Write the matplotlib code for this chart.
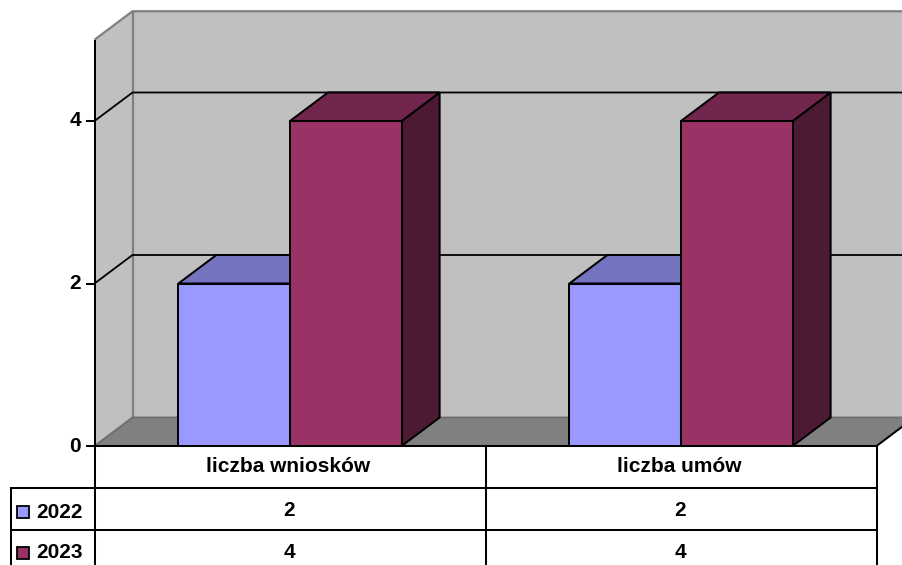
import matplotlib
matplotlib.use("Agg")
import matplotlib.pyplot as plt
from matplotlib.patches import Polygon, Rectangle

categories = ["liczba wniosków", "liczba umów"]
series_names = ["2022", "2023"]
values_2022 = [2, 2]
values_2023 = [4, 4]
y_ticks = [0, 2, 4]
y_max = 5

series_values = [values_2022, values_2023]
front = ["#9999FF", "#993366"]
top = ["#7373BF", "#73264D"]
side = ["#4D4D80", "#4D1A33"]
WALL, FLOOR, EDGE = "#C0C0C0", "#808080", "#808080"
FONT = dict(family="Liberation Sans", fontweight="bold", fontsize=15, color="black")
W, H = 902, 565
LW = 1.45

fig = plt.figure(figsize=(W / 100, H / 100), dpi=100, facecolor="white")

# Overlay in pixel coordinates for the data table frame
tb = fig.add_axes([0, 0, 1, 1])
tb.set_xlim(0, W)
tb.set_ylim(H, 0)
tb.axis("off")

# Main axes: front plane of the 3D box
x0, x1, y0, y5 = 94.5, 876.5, 446.0, 39.75
ax = fig.add_axes([x0 / W, (H - y0) / H, (x1 - x0) / W, (y0 - y5) / H])
ax.set_xlim(0, len(categories))
ax.set_ylim(0, y_max)
ax.axis("off")
ax.patch.set_alpha(0)

DX = 38.0 / (x1 - x0) * len(categories)
DY = 28.5 / (y0 - y5) * y_max
n = len(categories)


def poly(pts, fc, ec="black", lw=LW, z=1):
    ax.add_patch(Polygon(pts, closed=True, facecolor=fc, edgecolor=ec, linewidth=lw,
                         joinstyle="miter", clip_on=False, zorder=z))


def line(xs, ys, color="black", lw=LW, z=2):
    ax.plot(xs, ys, color=color, lw=lw, clip_on=False, zorder=z, solid_capstyle="butt")


# Walls and floor
poly([(0, 0), (DX, DY), (DX, y_max + DY), (0, y_max)], WALL, ec="none")
poly([(DX, DY), (n + DX, DY), (n + DX, y_max + DY), (DX, y_max + DY)], WALL, ec="none")
poly([(0, 0), (n, 0), (n + DX, DY), (DX, DY)], FLOOR, ec="none")

# Wall edges
line([DX, DX], [DY, y_max + DY], EDGE, 1.6)
line([0, DX, n + DX], [y_max, y_max + DY, y_max + DY], EDGE, 1.6)
line([0, DX, n + DX], [0, DY, DY], "#707070", 1.4)

# Gridlines on walls
for t in y_ticks[1:]:
    line([0, DX, n + DX], [t, t + DY, t + DY], "black", 1.3)

# Axis and floor edges
line([0, 0], [0, y_max], "black", LW, 3)
line([n, n + DX], [0, DY], "black", LW, 3)

# Tick marks and labels
for t in y_ticks:
    ax.plot([-8 / (x1 - x0) * n, 0], [t, t], color="black", lw=LW, clip_on=False, zorder=3)
    ax.annotate(str(t), (0, t), xytext=(-13.5 * 0.72, 0), textcoords="offset points",
                ha="right", va="center", annotation_clip=False, **FONT)

# 3D bars
bar_w = 0.2855
for s, vals in enumerate(series_values):
    for c, v in enumerate(vals):
        left = c + 0.5 - bar_w + s * bar_w
        right = left + bar_w
        z = 5 + s
        poly([(right, 0), (right + DX, DY), (right + DX, v + DY), (right, v)], side[s], z=z)
        poly([(left, v), (right, v), (right + DX, v + DY), (left + DX, v + DY)], top[s], z=z)
        poly([(left, 0), (right, 0), (right, v), (left, v)], front[s], z=z)

# Front baseline
line([0, n], [0, 0], "black", LW, 8)

# Data table
ROWS = [446, 488, 530, 572]
TL = 11
tb.plot([x0, x1], [ROWS[0]] * 2, color="black", lw=LW)
for r in ROWS[1:]:
    tb.plot([TL, x1], [r, r], color="black", lw=LW)
tb.plot([TL, TL], [ROWS[1], H + 5], color="black", lw=LW)
for xv in [x0, (x0 + x1) / 2, x1]:
    tb.plot([xv, xv], [ROWS[0], H + 5], color="black", lw=LW)

for c, name in enumerate(categories):
    cx = x0 + (c + 0.5) * (x1 - x0) / n
    tb.text(cx - 2, (ROWS[0] + ROWS[1]) / 2 - 0.5, name, ha="center", va="center", **FONT)
    for s, vals in enumerate(series_values):
        tb.text(cx - 1, (ROWS[s + 1] + ROWS[s + 2]) / 2 + 1, str(vals[c]), ha="center", va="center", **FONT)

for s, name in enumerate(series_names):
    yc = (ROWS[s + 1] + ROWS[s + 2]) / 2 + 3 - s * 1.5
    tb.add_patch(Rectangle((16.5, yc - 6), 12, 12, facecolor=front[s], edgecolor="black", linewidth=1.3))
    tb.text(36, yc, name, ha="left", va="center", **FONT)

fig.savefig("out.png", dpi=100, facecolor="white")
